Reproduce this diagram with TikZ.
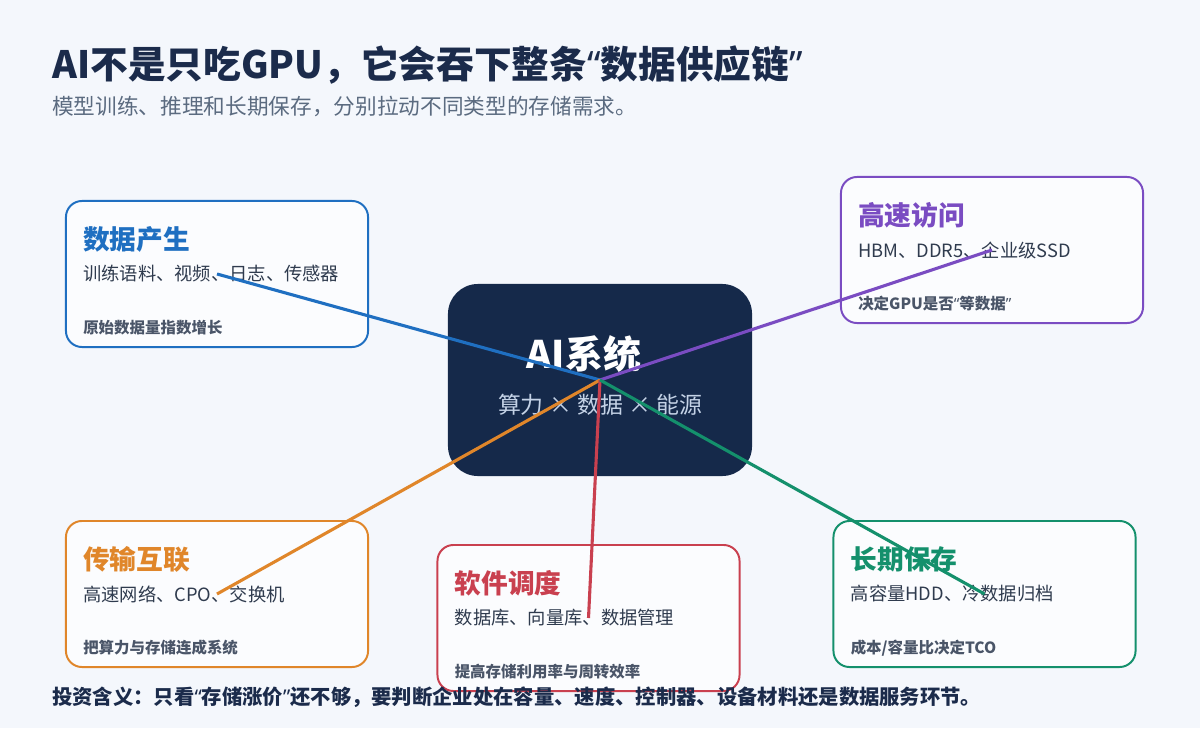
\documentclass[tikz,border=0pt]{standalone}
\usepackage{fontspec}
\setmainfont{Noto Sans CJK SC}
\newfontfamily\quotefont{Noto Sans}
\newcommand{\oq}{{\quotefont “}}
\newcommand{\cq}{{\quotefont ”}}
\usetikzlibrary{calc}
\definecolor{pagebg}{HTML}{F4F7FC}
\definecolor{cardbg}{HTML}{FBFCFE}
\definecolor{inkdark}{HTML}{1B2B4B}
\definecolor{inkgray}{HTML}{5B6B80}
\definecolor{bodyink}{HTML}{2F3B4E}
\definecolor{noteink}{HTML}{4A5568}
\definecolor{corebg}{HTML}{15294A}
\definecolor{coresub}{HTML}{C4D2E6}
\definecolor{cblue}{HTML}{1F6FC1}
\definecolor{cpurple}{HTML}{7A4CC2}
\definecolor{corange}{HTML}{E0862A}
\definecolor{cred}{HTML}{C9404F}
\definecolor{cgreen}{HTML}{14906C}

\begin{document}
\begin{tikzpicture}[x=0.025cm, y=-0.025cm,
  card/.style={draw=#1, line width=1.4pt, rounded corners=0.4cm, fill=cardbg,
    minimum width=7.55cm, minimum height=3.65cm, inner sep=0pt},
  cardhead/.style={anchor=west, inner sep=0pt, text=#1, font=\bfseries\fontsize{19pt}{21pt}\selectfont},
  cardbody/.style={anchor=west, inner sep=0pt, text=bodyink, font=\fontsize{13pt}{15pt}\selectfont},
  cardnote/.style={anchor=west, inner sep=0pt, text=noteink, font=\bfseries\fontsize{11pt}{13pt}\selectfont},
  link/.style={draw=#1, line width=2.2pt}]
  \fill[pagebg] (0,0) rectangle (1200,728);
  \useasboundingbox (0,0) rectangle (1200,728);

  % heading
  \node[anchor=west, inner sep=0pt, text=inkdark, font=\bfseries\fontsize{26.8pt}{29pt}\selectfont] (title) at (52,65) {AI不是只吃GPU，它会吞下整条\oq 数据供应链\cq};
  \node[anchor=west, inner sep=0pt, text=inkgray, font=\fontsize{15.4pt}{17pt}\selectfont] (subtitle) at (52,106) {模型训练、推理和长期保存，分别拉动不同类型的存储需求。};

  % hub
  \node[fill=corebg, rounded corners=0.75cm, minimum width=7.6cm, minimum height=4.8cm, inner sep=0pt] (core) at (600,380) {};
  \node[inner sep=0pt, text=white, font=\bfseries\fontsize{27pt}{30pt}\selectfont] (core-head) at (584,354) {AI系统};
  \node[inner sep=0pt, text=coresub, font=\fontsize{16.3pt}{18pt}\selectfont] (core-sub) at (600,405) {算力 × 数据 × 能源};

  % cards
  \foreach \id/\col/\cx/\cy/\head/\body/\note in {
    gen/cblue/217/274/数据产生/训练语料、视频、日志、传感器/原始数据量指数增长,
    fast/cpurple/992/250/高速访问/HBM、DDR5、企业级SSD/决定GPU是否\oq 等数据\cq,
    net/corange/217/594/传输互联/高速网络、CPO、交换机/把算力与存储连成系统,
    soft/cred/588.5/618/软件调度/数据库、向量库、数据管理/提高存储利用率与周转效率,
    cold/cgreen/984.5/594/长期保存/高容量HDD、冷数据归档/{成本/容量比决定TCO}} {
    \node[card=\col] (\id) at (\cx,\cy) {};
    \node[cardhead=\col] (\id-head) at ($(\id.north west)+(18,39)$) {\head};
    \node[cardbody] (\id-body) at ($(\id.north west)+(18,74)$) {\body};
    \node[cardnote] (\id-note) at ($(\id.north west)+(18,128)$) {\note};
    \coordinate (\id-tip) at ($(\id.north)+(0,74)$);
  }

  % spokes
  \foreach \id/\col in {gen/cblue, fast/cpurple, net/corange, soft/cred, cold/cgreen}
    \draw[link=\col] (core.center) -- (\id-tip);

  \node[anchor=west, inner sep=0pt, text=inkdark, font=\bfseries\fontsize{14.45pt}{16pt}\selectfont] (footer) at (52,697) {投资含义：只看\oq 存储涨价\cq 还不够，要判断企业处在容量、速度、控制器、设备材料还是数据服务环节。};
\end{tikzpicture}
\end{document}
